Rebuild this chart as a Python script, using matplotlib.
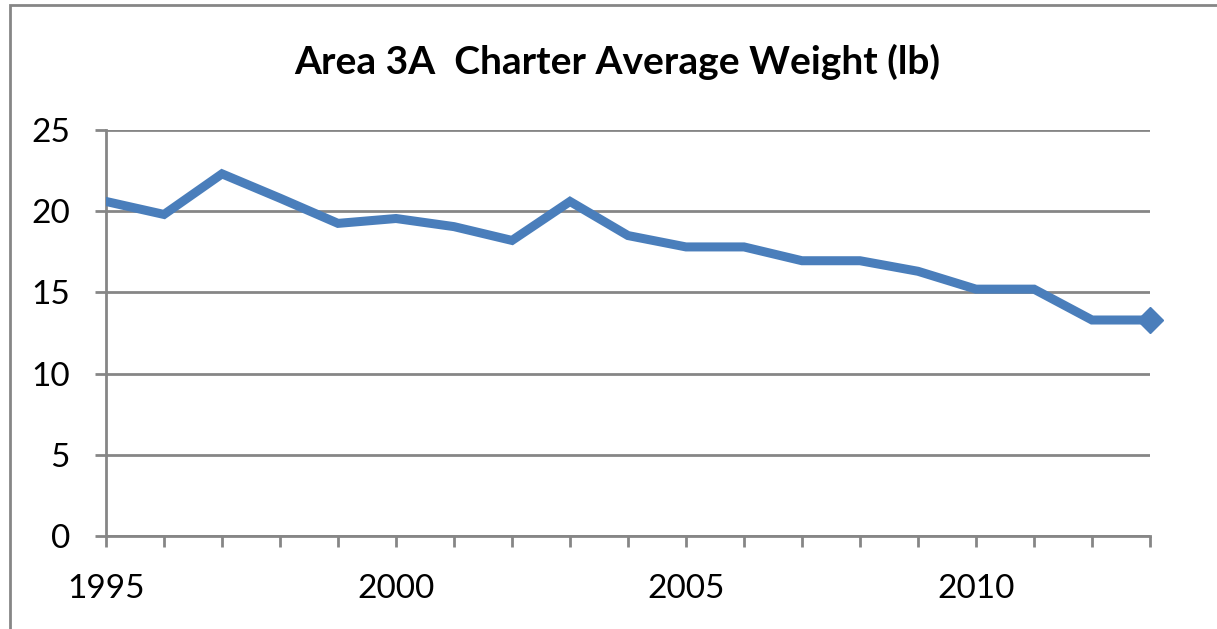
import matplotlib
matplotlib.use("Agg")
import matplotlib.pyplot as plt
from matplotlib.patches import Rectangle
from matplotlib.ticker import MultipleLocator

years = list(range(1995, 2014))
avg_weight = [20.6, 19.8, 22.3, 20.8, 19.25, 19.55, 19.05, 18.2, 20.6, 18.5,
              17.8, 17.8, 16.95, 16.95, 16.3, 15.2, 15.2, 13.3, 13.3]
title = "Area 3A  Charter Average Weight (lb)"
xtick_labels = [1995, 2000, 2005, 2010]

plt.rcParams['font.family'] = ['Lato', 'DejaVu Sans']

fig = plt.figure(figsize=(12.17, 6.29), dpi=100)
ax = fig.add_axes([106/1217, 1-536/629, (1150-106)/1217, (536-130)/629])

grid_c = '#868686'
line_c = '#4A7EBB'

ax.plot(years, avg_weight, color=line_c, lw=6.5, solid_joinstyle='miter', zorder=3)
ax.plot(years[-1:], avg_weight[-1:], marker='D', color=line_c, ms=13, zorder=4, clip_on=False)

ax.set_xlim(1995, 2013)
ax.set_ylim(0, 25)
ax.yaxis.set_major_locator(MultipleLocator(5))
ax.set_xticks(xtick_labels)
ax.set_xticklabels([str(v) for v in xtick_labels])
ax.xaxis.set_minor_locator(MultipleLocator(1))
ax.grid(axis='y', color=grid_c, lw=2, zorder=1)
for s in ['top', 'right']:
    ax.spines[s].set_visible(False)
for s in ['left', 'bottom']:
    ax.spines[s].set_color(grid_c)
    ax.spines[s].set_linewidth(2)
ax.tick_params(axis='both', which='both', colors=grid_c, width=2, length=8,
               labelcolor='black', labelsize=24)
ax.tick_params(axis='x', pad=19)
ax.tick_params(axis='y', pad=18)

fig.text(617/1217, 1-62/629, title, ha='center', va='center',
         fontsize=28, fontweight='bold')

fig.patches.append(Rectangle((10/1217, -0.1), 2, 1.1 - 5/629, transform=fig.transFigure,
                             fill=False, edgecolor=grid_c, lw=2))

fig.savefig('out.png', dpi=100)
